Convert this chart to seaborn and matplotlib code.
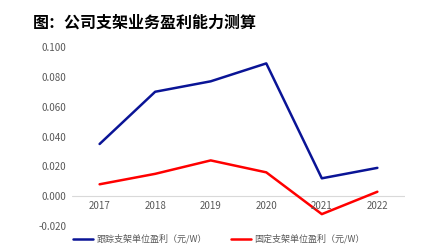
import matplotlib
matplotlib.use("Agg")
import matplotlib.pyplot as plt
import seaborn as sns
import pandas as pd

years = ["2017", "2018", "2019", "2020", "2021", "2022"]
tracking = [0.035, 0.070, 0.077, 0.089, 0.012, 0.019]
fixed = [0.008, 0.015, 0.024, 0.016, -0.012, 0.003]
series_names = ["跟踪支架单位盈利（元/W）", "固定支架单位盈利（元/W）"]
title = "图：公司支架业务盈利能力测算"

sns.set_theme(style="white")
plt.rcParams['font.family'] = ['Noto Sans CJK SC', 'DejaVu Sans']

df = pd.DataFrame({
    "year": years * 2,
    "value": tracking + fixed,
    "series": [series_names[0]] * 6 + [series_names[1]] * 6,
})

fig = plt.figure(figsize=(4.38, 2.46), dpi=100)
ax = fig.add_axes([0.164, 0.081, 0.761, 0.728])
sns.lineplot(data=df, x="year", y="value", hue="series",
             palette=["#0a1496", "#ff0000"], linewidth=1.8, ax=ax, sort=False)

ax.set_xlim(-0.5, 5.5)
ax.set_ylim(-0.02, 0.1)
yt = [-0.02, 0, 0.02, 0.04, 0.06, 0.08, 0.1]
ax.set_yticks(yt)
ax.set_yticklabels([f"{v:.3f}" for v in yt])
for s in ax.spines.values():
    s.set_visible(False)
ax.axhline(0, color="#d9d9d9", linewidth=0.8, zorder=0)
ax.tick_params(axis="both", length=0, labelsize=7, colors="#595959", pad=4)
ax.set_xlabel("")
ax.set_ylabel("")

# x tick labels sit just below the zero line
ax.set_xticks([])
for i, y in enumerate(years):
    ax.text(i, -0.0065, y, ha="center", va="center", fontsize=7, color="#595959")

h, l = ax.get_legend_handles_labels()
ax.legend_.remove()
fig.legend(h, l, loc="center", bbox_to_anchor=(0.5, 0.028), ncol=2, frameon=False,
           fontsize=6.5, handlelength=2.2, handletextpad=0.4, columnspacing=2.6,
           labelcolor="#595959")

fig.text(0.075, 0.91, title, fontsize=11.5, fontweight="bold", color="#000000", va="center")

fig.savefig("out.png", dpi=100)
